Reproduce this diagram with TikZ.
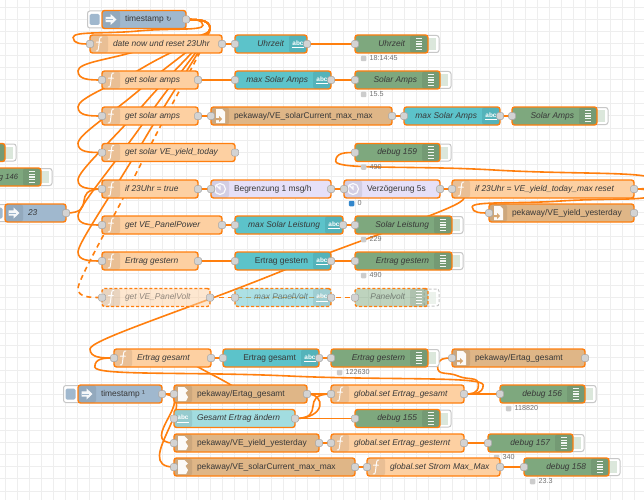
\documentclass[tikz,border=0pt]{standalone}
\usepackage{fontspec}
\setmainfont{Liberation Sans}
\newfontfamily\symfont{DejaVu Sans}
\pgfdeclarelayer{bg}\pgfdeclarelayer{wr}\pgfsetlayers{bg,wr,main}
\definecolor{wirec}{HTML}{FF7F0E}
\definecolor{fnc}{HTML}{FDD0A2}
\definecolor{injc}{HTML}{A0B8CE}
\definecolor{txtc}{HTML}{5CC3CA}
\definecolor{dbgc}{HTML}{7EA87E}
\definecolor{filec}{HTML}{DFB687}
\definecolor{delc}{HTML}{E6E0F8}
\definecolor{palec}{HTML}{A2DDE0}
\definecolor{gridc}{HTML}{EEEEEE}
\definecolor{portc}{HTML}{D3D3D3}
\tikzset{
 nrbox/.style={draw=wirec,line width=1.4pt,rounded corners=2.6pt,minimum height=18pt,inner sep=0pt,
   text=black!78,text height=6.2pt,text depth=1.8pt,font=\fontsize{8.4}{10}\selectfont\itshape},
 bandl/.style={path picture={\fill[black,opacity=.08] (path picture bounding box.south west) rectangle ++(18pt,18pt);}},
 bandr/.style={path picture={\fill[black,opacity=.08] (path picture bounding box.south east) rectangle ++(-18pt,18pt);}},
 dimmed/.style={dashed,dash pattern=on 3pt off 2pt,fill opacity=.5,text opacity=.55},
 port/.style={draw=black!35,fill=portc,line width=.5pt,rounded corners=1.6pt,minimum size=7pt,inner sep=0pt},
 wire/.style={draw=wirec,line width=1.6pt},
 dwire/.style={wire,dashed,dash pattern=on 5pt off 4pt},
 btn/.style={draw=black!22,fill=white,line width=1pt,rounded corners=2.4pt,inner sep=0pt,minimum height=17pt},
 sq/.style={fill=black!20,rounded corners=1pt,inner sep=0pt,minimum size=5.5pt},
 sttxt/.style={text=black!55,inner sep=0pt,anchor=west,font=\fontsize{7.2}{8}\selectfont},
 abcf/.style={text=white,inner sep=0pt,font=\fontsize{6.4}{7}\selectfont\bfseries\upshape},
}
% #1 extra, #2 name, #3 x1, #4 x2, #5 yc, #6 colour, #7 l/r, #8 icon, #9 label
\newcommand\nrbase[9]{%
 \pgfmathsetmacro\nrw{#4-(#3)}%
 \pgfmathsetmacro\nrcx{((#3)+(#4))/2}%
 \pgfmathsetmacro\nrtw{\nrw-46}%
 \def\nrn{#2}%
 \if#7l\pgfmathsetmacro\nrix{#3+9}\def\nral{l}\else\pgfmathsetmacro\nrix{#4-9}\def\nral{r}\fi
 \node[nrbox,band#7,fill=#6,minimum width=\nrw pt,#1] (#2) at (\nrcx,#5) {\makebox[\nrtw pt][\nral]{#9}};
 \begin{scope}[shift={(\nrix,#5)}]#8\end{scope}
}
\newcommand\pI[3]{\node[port] (#1-i) at (#2,#3) {};}
\newcommand\pO[3]{\node[port] (#1-o) at (#2,#3) {};}
% icons
\newcommand\icf{\draw[white,line width=1pt,opacity=.95,line cap=round] (2.8,-7) .. controls (0.3,-7.6) and (0.6,-4) .. (0,0) .. controls (-0.6,4) and (-0.3,7.6) .. (-2.8,7) (-2.6,-1.8) -- (2.4,-1.8);}
\newcommand\icinj{\fill[white,opacity=.92] (-5.5,-2.6) -- (-0.5,-2.6) -- (-0.5,-5.6) -- (5.5,0) -- (-0.5,5.6) -- (-0.5,2.6) -- (-5.5,2.6) -- cycle; \fill[injc] (-5.5,-0.5) rectangle (1.5,0.5);}
\newcommand\icfilein{\fill[white,opacity=.95] (-5,-7) -- (1.5,-7) -- (4.8,-3.5) -- (2.5,-1) -- (5,3) -- (3,7) -- (-5,7) -- cycle;}
\newcommand\icfileout{\fill[white,opacity=.95] (-4,-7) -- (2,-7) -- (5,-4) -- (5,7) -- (-4,7) -- cycle; \fill[filec!70!brown] (-4.5,2) -- (-1,2) -- (-1,0) -- (2,3) -- (-1,6) -- (-1,4) -- (-4.5,4) -- cycle;}
\newcommand\icdelay{\draw[white,opacity=.9,line width=1.2pt] (0,0) circle (5.5); \draw[white,opacity=.9,line width=1.2pt] (-3.5,-3.5) -- (0,0) -- (0,-3.5);}
\newcommand\icabc{\node[abcf] (\nrn-a) at (0,-0.8) {abc}; \draw[white,line width=1pt] (-6,3.6) -- (6,3.6);}
\newcommand\icdbg{\foreach \yy in {-5.6,-2.8,0,2.8,5.6}{\draw[white,opacity=.9,line width=1.1pt] (-3.2,\yy) -- (3.2,\yy);}}
% node kinds: [extra]{name}{x1}{x2}{yc}{label}
\newcommand\fnn[6][]{\nrbase{#1}{#2}{#3}{#4}{#5}{fnc}{l}{\icf}{#6}\pI{#2}{#3}{#5}\pO{#2}{#4}{#5}}
\newcommand\txn[6][]{\nrbase{#1}{#2}{#3}{#4}{#5}{txtc}{r}{\icabc}{#6}\pI{#2}{#3}{#5}\pO{#2}{#4}{#5}}
\newcommand\flo[5]{\nrbase{}{#1}{#2}{#3}{#4}{filec}{l}{\icfileout}{\upshape #5}\pI{#1}{#2}{#4}\pO{#1}{#3}{#4}}
\newcommand\fli[5]{\nrbase{}{#1}{#2}{#3}{#4}{filec}{l}{\icfilein}{\upshape #5}\pI{#1}{#2}{#4}\pO{#1}{#3}{#4}}
\newcommand\dly[5]{\nrbase{}{#1}{#2}{#3}{#4}{delc}{l}{\icdelay}{\upshape #5}\pI{#1}{#2}{#4}\pO{#1}{#3}{#4}}
\newcommand\dbn[6][]{%
 \pgfmathsetmacro\bx{#4+3.5}%
 \node[btn,minimum width=15pt,#1] (#2-b) at (\bx,#5) {};
 \pgfmathsetmacro\bx{#4+4}%
 \node[fill=dbgc!28!white,minimum width=8pt,minimum height=12pt,inner sep=0pt,draw=none,#1] (#2-c) at (\bx,#5) {};
 \nrbase{#1}{#2}{#3}{#4}{#5}{dbgc}{r}{\icdbg}{#6}\pI{#2}{#3}{#5}}
\newcommand\inj[5]{%
 \pgfmathsetmacro\bx{#2-5}%
 \node[btn,minimum width=19pt] (#1-b) at (\bx,#4) {};
 \pgfmathsetmacro\bx{#2-7.5}%
 \node[fill=injc,rounded corners=1.5pt,minimum width=10pt,minimum height=11pt,inner sep=0pt] (#1-c) at (\bx,#4) {};
 \nrbase{}{#1}{#2}{#3}{#4}{injc}{l}{\icinj}{#5}\pO{#1}{#3}{#4}}
\newcommand\st[5][black!20]{%
 \pgfmathsetmacro\sa{#3+8.5}\pgfmathsetmacro\sb{#4+14.5}\pgfmathsetmacro\sc{#3+14.5}%
 \node[sq,fill=#1] (#2-s) at (\sa,\sb) {};
 \node[sttxt] (#2-t) at (\sc,\sb) {#5};}
% wire geometry between the ports of two named nodes
\newcommand\lnk[3][wire]{%
 \path (#2-o); \pgfgetlastxy{\wa}{\wb}%
 \path (#3-i); \pgfgetlastxy{\wc}{\wd}%
 \pgfmathsetmacro\ox{\wa}\pgfmathsetmacro\oy{-(\wb)}%
 \pgfmathsetmacro\ex{\wc}\pgfmathsetmacro\ey{-(\wd)}%
 \pgfmathsetmacro\dxx{\ex-\ox}\pgfmathsetmacro\dyy{\ey-\oy}%
 \pgfmathparse{\dxx>0?1:0}%
 \ifnum\pgfmathresult=1
  \pgfmathsetmacro\del{veclen(\dxx,\dyy)}%
  \pgfmathsetmacro\scl{\del<60?0.75-0.75*(60-\del)/60:0.75}%
  \draw[#1] (#2-o.center) .. controls (\ox+60*\scl,\oy) and (\ex-60*\scl,\ey) .. (#3-i.center);
 \else
  \pgfmathsetmacro\sg{\dyy>=0?1:-1}%
  \pgfmathsetmacro\mn{min(abs(\dxx),abs(\dyy))}%
  \pgfmathsetmacro\scl{0.4-0.2*max(0,(60-\mn)/60)}%
  \pgfmathsetmacro\tx{\ox+60*\scl}\pgfmathsetmacro\bxx{\ex-60*\scl}%
  \pgfmathsetmacro\mx{floor(\ex-\dxx/2)}\pgfmathsetmacro\my{floor((\ey+\oy)/2)}%
  \pgfmathsetmacro\yo{(\ey+\my)/2}%
  \pgfmathsetmacro\ty{\sg*min(\sg*(\yo-\dyy/2),\sg*\oy+9)}%
  \pgfmathsetmacro\by{\sg*max(\sg*\yo,\sg*\ey-9)}%
  \pgfmathsetmacro\tgx{0.25*(\tx-\bxx)}\pgfmathsetmacro\tgy{0.25*(\ty-\by)}%
  \pgfmathsetmacro\ca{\sg*max(\sg*\oy,\sg*\ty-9)}%
  \pgfmathsetmacro\cb{\sg*min(\sg*\my,\sg*\ty+9)}%
  \pgfmathsetmacro\cc{\sg*max(\sg*\my,\sg*\by-9)}%
  \pgfmathsetmacro\cd{\sg*min(\sg*\ey,\sg*\by+9)}%
  \draw[#1] (#2-o.center) .. controls ({(\ox+\tx)/2},\oy) and (\tx,\ca) .. (\tx,\ty)
    .. controls (\tx,\cb) and (\mx+\tgx,\my+\tgy) .. (\mx,\my)
    .. controls (\mx-\tgx,\my-\tgy) and (\bxx,\cc) .. (\bxx,\by)
    .. controls (\bxx,\cd) and ({(\ex+\bxx)/2},\ey) .. (#3-i.center);
 \fi
}
\begin{document}
\begin{tikzpicture}[x=1pt,y=-1pt]
\useasboundingbox (0,0) rectangle (644,500);
\clip (0,0) rectangle (644,500);
\begin{pgfonlayer}{bg}
 \fill[white] (0,0) rectangle (644,500);
 \foreach \k in {0,...,53}{\draw[gridc,line width=.9pt] ({5+12.1*\k},0) -- ({5+12.1*\k},500);}
 \foreach \k in {0,...,41}{\draw[gridc,line width=.9pt] (0,{7+12.1*\k}) -- (644,{7+12.1*\k});}
\end{pgfonlayer}
% --- upper group
\inj{ts}{102}{186}{19.5}{\upshape timestamp {\symfont\fontsize{6.5}{8}\selectfont ↻}}
\fnn{date}{90}{222}{44}{date now und reset 23Uhr}
\txn{tUhr}{235}{307}{44}{Uhrzeit}
\dbn{dUhr}{355}{428}{44}{Uhrzeit}
\st{dUhr}{355}{44}{18:14:45}
\fnn{amp}{102}{198}{80}{get solar amps}
\txn{tAmp}{235}{331}{80}{max Solar Amps}
\dbn{dAmp}{355}{440}{80}{Solar Amps}
\st{dAmp}{355}{80}{15.5}
\fnn{ampb}{102}{198}{116}{get solar amps}
\flo{fCur}{211}{392}{116}{pekaway/VE\_solarCurrent\_max\_max}
\txn{tAmpb}{404}{500}{116}{max Solar Amps}
\dbn{dAmpb}{512}{597}{116}{Solar Amps}
\dbn{d159}{355}{440}{152.5}{debug 159}
\st{d159}{355}{152.5}{490}
\fnn{yld}{102}{235}{152.5}{get solar VE\_yield\_today}
\dbn{dTop}{-80}{5}{152.5}{}
\dbn{d146}{-44}{41}{177}{\fontsize{7.6}{9}\selectfont g 146}
\inj{n23}{5}{66}{213}{23}
\fnn{ifa}{102}{198}{189}{if 23Uhr = true}
\dly{lim}{211}{331}{189}{Begrenzung 1 msg/h}
\dly{dly}{344}{440}{189}{Verzögerung 5s}
\st[blue!45!cyan!75!black!80]{dly}{343}{189}{0}
\fnn{ifb}{452}{634}{189}{if 23Uhr = VE\_yield\_today\_max reset}
\flo{fYes}{489}{634}{213}{pekaway/VE\_yield\_yesterday}
\fnn{pow}{102}{222}{225}{get VE\_PanelPower}
\txn{tPow}{235}{343}{225}{max Solar Leistung}
\dbn{dPow}{355}{452}{225}{Solar Leistung}
\st{dPow}{355}{225}{229}
\fnn{ges}{102}{198}{261}{Ertrag gestern}
\txn{tGes}{235}{331}{261}{\upshape Ertrag gestern}
\dbn{dGes}{355}{452}{261}{Ertrag gestern}
\st{dGes}{355}{261}{490}
\fnn[dimmed]{volt}{102}{210}{297.5}{get VE\_PanelVolt}
\txn[dimmed]{tVolt}{235}{331}{297.5}{max PanelVolt}
\dbn[dimmed]{dVolt}{355}{428}{297.5}{Panelvolt}
% --- lower group
\fnn{tot}{114}{211}{358}{Ertrag gesamt}
\txn{tTot}{223}{319}{358}{\upshape Ertrag gesamt}
\dbn{dTot}{331}{428}{358}{Ertrag gestern}
\st{dTot}{331}{358}{122630}
\flo{fTot}{452}{585}{358}{pekaway/Ertag\_gesamt}
\inj{tsb}{78}{162}{394}{\upshape timestamp ¹}
\fli{rTot}{174}{307}{394}{pekaway/Ertag\_gesamt}
\fnn{gTot}{331}{464}{394}{global.set Ertrag\_gesamt}
\dbn{d156}{500}{585}{394}{debug 156}
\st{d156}{500}{394}{118820}
\nrbase{}{chg}{174}{295}{418.5}{palec}{l}{\icabc}{Gesamt Ertrag ändern}\pI{chg}{174}{418.5}\pO{chg}{295}{418.5}
\dbn{d155}{355}{440}{418.5}{debug 155}
\fli{rYes}{174}{319}{443}{pekaway/VE\_yield\_yesterday}
\fnn{gYes}{331}{464}{443}{global.set Ertrag\_gesternt}
\dbn{d157}{488}{573}{443}{debug 157}
\st{d157}{488}{443}{340}
\fli{rCur}{174}{355}{467}{pekaway/VE\_solarCurrent\_max\_max}
\fnn{gCur}{367}{500}{467}{global.set Strom Max\_Max}
\dbn{d158}{524}{609}{467}{debug 158}
\st{d158}{524}{467}{23.3}
% --- wires
\begin{pgfonlayer}{wr}
 \lnk{ts}{date}\lnk{ts}{amp}\lnk{ts}{ampb}\lnk{ts}{yld}\lnk{ts}{ifa}\lnk{ts}{pow}\lnk{ts}{ges}
 \lnk[dwire]{ts}{volt}
 \lnk{n23}{ifa}
 \lnk{date}{tUhr}\lnk{tUhr}{dUhr}
 \lnk{amp}{tAmp}\lnk{tAmp}{dAmp}
 \lnk{ampb}{fCur}\lnk{fCur}{tAmpb}\lnk{tAmpb}{dAmpb}
 \lnk{ifa}{lim}\lnk{lim}{dly}\lnk{dly}{ifb}
 \lnk{ifb}{d159}\lnk{ifb}{fYes}
 \lnk{dly}{tot}
 \lnk{pow}{tPow}\lnk{tPow}{dPow}
 \lnk{ges}{tGes}\lnk{tGes}{dGes}
 \lnk[dwire]{volt}{tVolt}\lnk[dwire]{volt}{dVolt}
 \lnk{tot}{tTot}\lnk{tTot}{dTot}
 \draw[wire] (rTot-o.center) -- (240,391) .. controls (225,380) and (205,372) .. (190,362) -- (tot-i.center);
 \lnk{gTot}{tot}\lnk{gTot}{fTot}
 \lnk{tsb}{rTot}\lnk{tsb}{rYes}\lnk{tsb}{rCur}
 \lnk{rTot}{gTot}\lnk{chg}{gTot}\lnk{gTot}{d156}
 \lnk{chg}{d155}
 \draw[wire] (rTot-o.center) .. controls (326,394) and (326,418.5) .. (chg-o.center);
 \lnk{rYes}{gYes}\lnk{gYes}{d157}
 \lnk{rCur}{gCur}\lnk{gCur}{d158}
\end{pgfonlayer}
\end{tikzpicture}
\end{document}
